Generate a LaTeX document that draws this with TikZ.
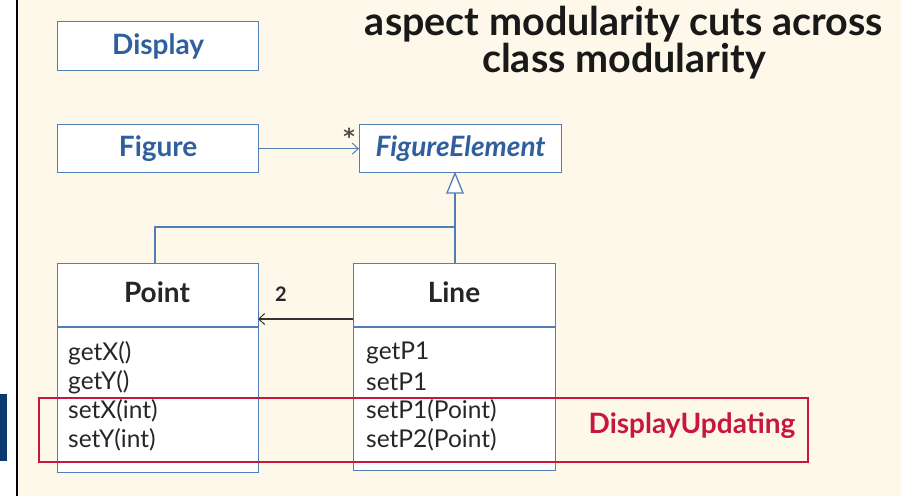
\documentclass[tikz,border=0pt]{standalone}
\usepackage{fontspec}
\setmainfont{Lato}
\newfontfamily\symfont{DejaVu Sans}
\usetikzlibrary{arrows.meta}
\definecolor{cream}{HTML}{FDF8EA}
\definecolor{ublue}{HTML}{4F7FB5}
\definecolor{tblue}{HTML}{2F5F9E}
\definecolor{aspred}{HTML}{C8173F}
\definecolor{navy}{HTML}{0B3A6E}
\tikzset{
  x=1pt,y=-1pt,
  cls/.style={draw=ublue,line width=1.3pt,fill=white,rectangle,inner sep=0pt,anchor=north west},
  clsname/.style={font=\bfseries\fontsize{28}{30}\selectfont,text=tblue},
  titlename/.style={font=\bfseries\fontsize{28}{30}\selectfont,text=black!85},
  meth/.style={font=\fontsize{24.5}{26}\selectfont,anchor=west,inner sep=0pt,text=black!85},
  conn/.style={draw=ublue,line width=1.3pt},
  barb/.style={-{Straight Barb[length=6pt,width=11pt,line width=1pt]}},
}
\begin{document}
\begin{tikzpicture}
\useasboundingbox (0,0) rectangle (901,496);
\fill[white] (0,0) rectangle (901,496);
\fill[cream] (17,0) rectangle (901,496);
\draw[black,line width=2pt] (17,0) -- (17,496);
\fill[navy] (0,394) rectangle (7,461);
% title
\node[font=\bfseries\fontsize{39.5}{34}\selectfont,align=center,text=black!90] (title) at (624,43) {aspect modularity cuts across\\class modularity};
% Display, Figure
\node[cls,minimum width=201pt,minimum height=49pt] (display) at (57,21) {};
\node[clsname] at (display.center) {Display};
\node[cls,minimum width=201pt,minimum height=48pt] (figure) at (57,124) {};
\node[clsname] at (figure.center) {Figure};
\node[cls,minimum width=202pt,minimum height=48pt] (fe) at (359,124) {};
\node[clsname,font=\bfseries\itshape\fontsize{28}{30}\selectfont] at (fe.center) {FigureElement};
\draw[conn,barb] (figure.east) -- (fe.west);
\node[font=\symfont\bfseries\fontsize{22}{22}\selectfont,text=black!70] (star) at (349,136) {*};
% Point
\node[cls,minimum width=201pt,minimum height=209pt] (point) at (57,263) {};
\coordinate (pdl) at (57,327); \coordinate (pdr) at (258,327);
\draw[conn] (pdl) -- (pdr);
\node[titlename] (pname) at (157,292) {Point};
\node[meth] (m1) at (68,353) {getX()};
\node[meth] (m2) at (68,382) {getY()};
\node[meth] (m3) at (68,411) {setX(int)};
\node[meth] (m4) at (68,440) {setY(int)};
% Line
\node[cls,minimum width=202pt,minimum height=207pt] (line) at (353,263) {};
\coordinate (ldl) at (353,327); \coordinate (ldr) at (555,327);
\draw[conn] (ldl) -- (ldr);
\node[titlename] (lname) at (454,292) {Line};
\node[meth] (n1) at (366,353) {getP1};
\node[meth] (n2) at (366,382) {setP1};
\node[meth] (n3) at (366,411) {setP1(Point)};
\node[meth] (n4) at (366,440) {setP2(Point)};
% association Line -> Point
\coordinate (la) at (353,319); \coordinate (pa) at (258,319);
\draw[black!80,line width=1.3pt,barb] (la) -- (pa);
\node[font=\bfseries\fontsize{20}{20}\selectfont,text=black!85] (two) at (281,294) {2};
% inheritance
\coordinate (tri) at (455,193);
\coordinate (join) at (455,227);
\coordinate (pj) at (155,227);
\draw[conn] (point.north -| pj) -- (pj) -- (join);
\draw[conn] (line.north -| join) -- (tri);
\draw[ublue,line width=1.3pt,fill=white] (fe.south -| tri) -- (447,193) -- (463,193) -- cycle;
% aspect
\node[draw=aspred,line width=1.5pt,rectangle,minimum width=769pt,minimum height=64pt,anchor=north west,inner sep=0pt] (du) at (38,397) {};
\node[font=\bfseries\fontsize{28}{30}\selectfont,text=aspred] (dutext) at (692,426) {DisplayUpdating};
\end{tikzpicture}
\end{document}
